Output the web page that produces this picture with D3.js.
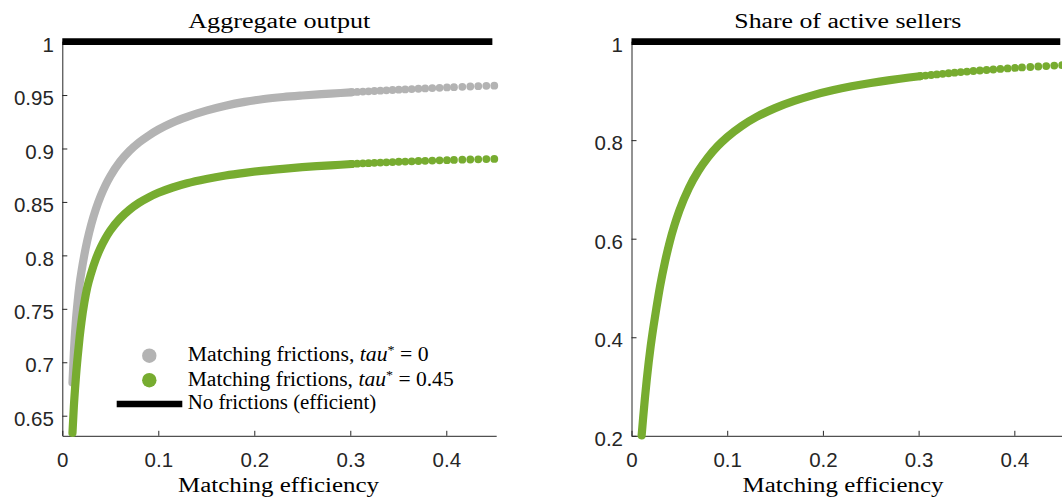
<!DOCTYPE html>
<html><head><meta charset="utf-8">
<script src="https://cdn.jsdelivr.net/npm/d3@7"></script>
<style>body{margin:0;background:#fff}svg{display:block}</style>
</head><body>
<svg id="chart" width="1062" height="500"></svg>
<script>
// ---------- data ----------
const efficiency = [0.0106, 0.012, 0.014, 0.016, 0.018, 0.020, 0.023, 0.026, 0.030, 0.035,
  0.040, 0.045, 0.050, 0.060, 0.070, 0.080, 0.090, 0.100, 0.115, 0.130,
  0.150, 0.170, 0.190, 0.210, 0.230, 0.250, 0.270, 0.290,
  0.3015, 0.3072, 0.3131, 0.3190, 0.3251, 0.3313, 0.3376, 0.3440, 0.3505, 0.3572,
  0.3640, 0.3710, 0.3780, 0.3854, 0.3930, 0.4007, 0.4080, 0.4167, 0.4250, 0.4333, 0.4417, 0.4500];
const outputTau0 = [0.681, 0.708, 0.737, 0.757, 0.773, 0.785, 0.8005, 0.8137, 0.8284, 0.8434,
  0.8555, 0.8656, 0.8740, 0.8875, 0.8977, 0.9057, 0.9121, 0.9176, 0.9243, 0.9296,
  0.9354, 0.9400, 0.9436, 0.9463, 0.9482, 0.9496, 0.9508, 0.9519,
  0.9526, 0.9529, 0.9532, 0.9535, 0.9538, 0.9541, 0.9544, 0.9547, 0.9550, 0.9553,
  0.9556, 0.9559, 0.9562, 0.9565, 0.9568, 0.9571, 0.9574, 0.9577, 0.9580, 0.9583, 0.9586, 0.9588];
const outputTau45 = [0.634, 0.658, 0.684, 0.705, 0.723, 0.738, 0.756, 0.770, 0.7832, 0.7967,
  0.8073, 0.8160, 0.8232, 0.8344, 0.8427, 0.8492, 0.8543, 0.8585, 0.8635, 0.8675,
  0.8715, 0.8747, 0.8772, 0.8793, 0.8810, 0.8825, 0.8837, 0.8848,
  0.8855, 0.8858, 0.8861, 0.8863, 0.8866, 0.8868, 0.8871, 0.8873, 0.8876, 0.8878,
  0.8880, 0.8883, 0.8885, 0.8887, 0.8889, 0.8891, 0.8893, 0.8895, 0.8897, 0.8899, 0.8901, 0.8902];
const shareActive = [0.201, 0.233, 0.276, 0.315, 0.350, 0.381, 0.422, 0.459, 0.505, 0.553,
  0.594, 0.628, 0.657, 0.703, 0.7379, 0.7655, 0.7879, 0.8063, 0.8287, 0.8464,
  0.8650, 0.8796, 0.8914, 0.9011, 0.9092, 0.9160, 0.9219, 0.9271,
  0.9297, 0.9310, 0.9322, 0.9334, 0.9346, 0.9358, 0.9369, 0.9381, 0.9392, 0.9403,
  0.9413, 0.9424, 0.9434, 0.9445, 0.9455, 0.9465, 0.9475, 0.9485, 0.9495, 0.9504, 0.9513, 0.9522];
const efficientX = [0, 0.448];
const efficientLevel = 1;

const xTicks = [0, 0.1, 0.2, 0.3, 0.4];
const xTickLabels = ["0", "0.1", "0.2", "0.3", "0.4"];
const leftYTicks = [0.65, 0.7, 0.75, 0.8, 0.85, 0.9, 0.95, 1];
const leftYTickLabels = ["0.65", "0.7", "0.75", "0.8", "0.85", "0.9", "0.95", "1"];
const rightYTicks = [0.2, 0.4, 0.6, 0.8, 1];
const rightYTickLabels = ["0.2", "0.4", "0.6", "0.8", "1"];
const panelTitles = ["Aggregate output", "Share of active sellers"];
const xAxisLabel = "Matching efficiency";
const legendLabels = [
  {pre: "Matching frictions, ", math: "tau", sup: "*", post: " = 0"},
  {pre: "Matching frictions, ", math: "tau", sup: "*", post: " = 0.45"},
  {pre: "No frictions (efficient)", math: "", sup: "", post: ""}
];

// ---------- style ----------
const GREY = "#b3b3b3", GREEN = "#77ac30", AXIS = "#262626";
const SERIF = "'Liberation Serif', 'Times New Roman', serif";
const SANS = "'Liberation Sans', Arial, Helvetica, sans-serif";
const DOT_R = 3.9, BAND_W = 8.2;

const svg = d3.select("#chart");

const panels = [
  {x: d3.scaleLinear([0, 0.452], [62.3, 496.2]),
   y: d3.scaleLinear([0.6312, 1], [435.8, 41.6]),
   yTicks: leftYTicks, yLabels: leftYTickLabels,
   title: panelTitles[0], titleW: 182, xlabW: 201, xlabX: 278.5,
   series: [{v: outputTau0, c: GREY}, {v: outputTau45, c: GREEN}]},
  {x: d3.scaleLinear([0, 0.452], [631.5, 1064.1]),
   y: d3.scaleLinear([0.2, 1], [435.8, 41.6]),
   yTicks: rightYTicks, yLabels: rightYTickLabels,
   title: panelTitles[1], titleW: 227, xlabW: 201, xlabX: 843,
   series: [{v: shareActive, c: GREEN}]}
];

const DENSE_END = 0.3015;

panels.forEach((p) => {
  const g = svg.append("g");
  const [x0, x1] = p.x.range();
  const yBottom = p.y.range()[0];

  // axes
  const xAxis = d3.axisBottom(p.x).tickValues(xTicks)
    .tickFormat((d, i) => xTickLabels[i]).tickSizeInner(-5).tickSizeOuter(0).tickPadding(17);
  const gx = g.append("g").attr("transform", `translate(0,${yBottom})`).call(xAxis);
  const yAxis = d3.axisLeft(p.y).tickValues(p.yTicks)
    .tickFormat((d, i) => p.yLabels[i]).tickSizeInner(-5).tickSizeOuter(0).tickPadding(8.5);
  const gy = g.append("g").attr("transform", `translate(${x0},0)`).call(yAxis);
  [gx, gy].forEach(a => {
    a.select(".domain").attr("stroke", AXIS).attr("stroke-width", 1);
    a.selectAll(".tick line").attr("stroke", AXIS).attr("stroke-width", 1);
    a.selectAll(".tick text").attr("fill", AXIS).attr("font-family", SANS).attr("font-size", 20.5);
  });
  gy.selectAll(".tick text").attr("dy", "0.47em");

  // series
  p.series.forEach(s => {
    const pts = efficiency.map((e, i) => [e, s.v[i]]);
    const dense = pts.filter(d => d[0] <= DENSE_END);
    const sparse = pts.filter(d => d[0] >= DENSE_END);
    g.append("path")
      .attr("d", d3.line().x(d => p.x(d[0])).y(d => p.y(d[1])).curve(d3.curveMonotoneX)(dense))
      .attr("fill", "none").attr("stroke", s.c).attr("stroke-width", BAND_W)
      .attr("stroke-linecap", "round").attr("stroke-linejoin", "round");
    g.selectAll(null).data(sparse).join("circle")
      .attr("cx", d => p.x(d[0])).attr("cy", d => p.y(d[1])).attr("r", DOT_R).attr("fill", s.c);
  });

  // efficient benchmark
  g.append("line")
    .attr("x1", p.x(efficientX[0])).attr("x2", p.x(efficientX[1]))
    .attr("y1", p.y(efficientLevel)).attr("y2", p.y(efficientLevel))
    .attr("stroke", "#000").attr("stroke-width", 6.7);

  // title & x label
  const cx = (x0 + x1) / 2;
  g.append("text").text(p.title).attr("x", cx).attr("y", 28.3)
    .attr("text-anchor", "middle").attr("font-family", SERIF).attr("font-size", 20.5)
    .attr("textLength", p.titleW).attr("lengthAdjust", "spacingAndGlyphs").attr("fill", "#000");
  g.append("text").text(xAxisLabel).attr("x", p.xlabX).attr("y", 492)
    .attr("text-anchor", "middle").attr("font-family", SERIF).attr("font-size", 20.5)
    .attr("textLength", p.xlabW).attr("lengthAdjust", "spacingAndGlyphs").attr("fill", "#000");
});

// ---------- legend (left panel) ----------
const leg = svg.append("g");
leg.append("circle").attr("cx", 149.3).attr("cy", 355.7).attr("r", 7.2).attr("fill", GREY);
leg.append("circle").attr("cx", 149.3).attr("cy", 380.2).attr("r", 7.2).attr("fill", GREEN);
leg.append("line").attr("x1", 116.7).attr("x2", 182.3).attr("y1", 404).attr("y2", 404)
  .attr("stroke", "#000").attr("stroke-width", 6.7);
const legBaselines = [361, 385.6, 409.3];
const legWidths = [241, 266, 188.5];
legendLabels.forEach((l, i) => {
  const t = leg.append("text").attr("x", 187.7).attr("y", legBaselines[i])
    .attr("font-family", SERIF).attr("font-size", 20).attr("fill", "#000")
    .attr("textLength", legWidths[i]).attr("lengthAdjust", "spacingAndGlyphs");
  t.append("tspan").text(l.pre);
  if (l.math) {
    t.append("tspan").text(l.math).attr("font-style", "italic");
    t.append("tspan").text(l.sup).attr("font-size", 13).attr("dy", -7);
    t.append("tspan").text(l.post).attr("dy", 7);
  }
});
</script>
</body></html>
